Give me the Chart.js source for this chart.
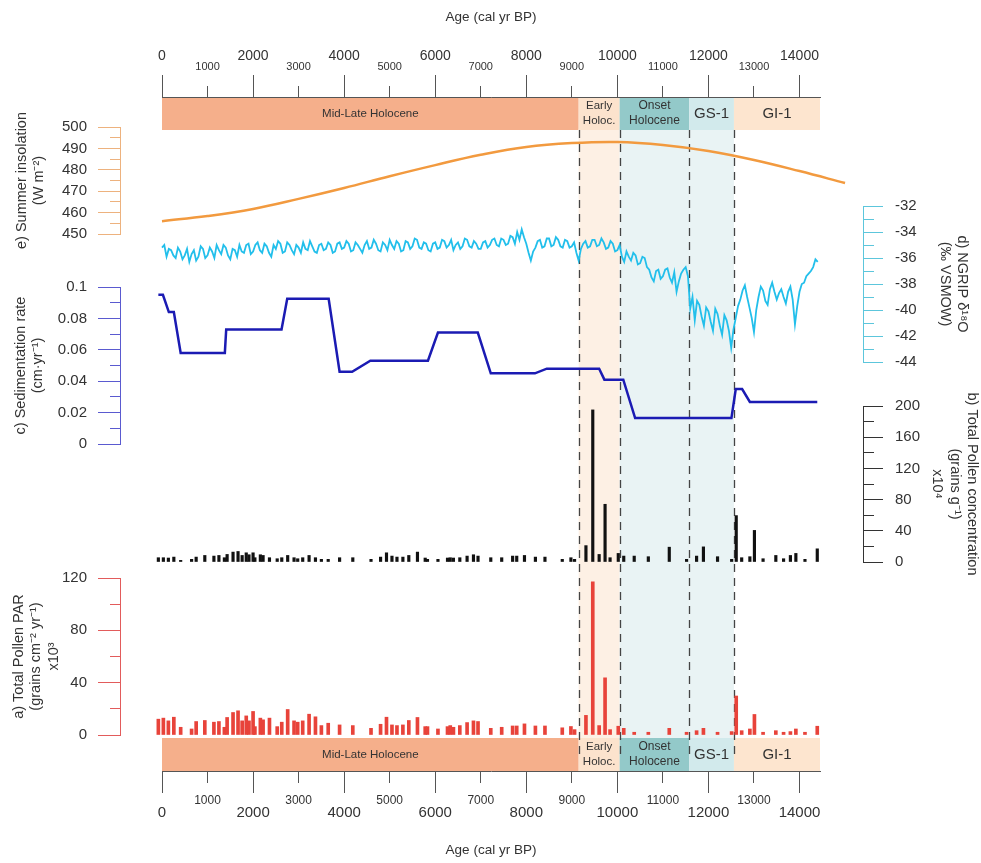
<!DOCTYPE html>
<html>
<head>
<meta charset="utf-8">
<title>Pollen record vs. climate</title>
<script src="https://cdn.jsdelivr.net/npm/chart.js@4.4.1/dist/chart.umd.min.js"></script>
<style>
  html, body { margin: 0; padding: 0; background: #fff; }
  #chart { display: block; }
</style>
</head>
<body>
<canvas id="chart" width="981" height="863"></canvas>
<script>
// ---- values (ages in cal yr BP) ----

// chronozones
const zoneLabel = [['Mid-Late Holocene'], ['Early', 'Holoc.'], ['Onset', 'Holocene'], ['GS-1'], ['GI-1']];
const zoneStart = [0, 9150, 10050, 11580, 12560];
const zoneEnd = [9150, 10050, 11580, 12560, 14450];

// age axis ticks
const ageMajorTicks = [0, 2000, 4000, 6000, 8000, 10000, 12000, 14000];
const ageMinorTicks = [1000, 3000, 5000, 7000, 9000, 11000, 13000];

// e) summer insolation (W m-2)
const insAge = [0, 1000, 2000, 3000, 4000, 5000, 6000, 7000, 8000, 9000, 10000, 11000, 12000, 13000, 14000, 15000];
const insValue = [456, 458.4, 461.7, 466.4, 471.5, 477, 482.2, 487, 490.7, 492.5, 493, 491.6, 488.8, 484.6, 479.4, 473.8];

// d) NGRIP d18O (permil VSMOW)
const ngripAge = [
  0, 50, 100, 150, 200, 250, 300, 350, 400, 450, 500, 550, 600, 650, 700, 750, 800, 850, 900, 950,
  1000, 1050, 1100, 1150, 1200, 1250, 1300, 1350, 1400, 1450, 1500, 1550, 1600, 1650, 1700, 1750, 1800, 1850, 1900, 1950,
  2000, 2050, 2100, 2150, 2200, 2250, 2300, 2350, 2400, 2450, 2500, 2550, 2600, 2650, 2700, 2750, 2800, 2850, 2900, 2950,
  3000, 3050, 3100, 3150, 3200, 3250, 3300, 3350, 3400, 3450, 3500, 3550, 3600, 3650, 3700, 3750, 3800, 3850, 3900, 3950,
  4000, 4050, 4100, 4150, 4200, 4250, 4300, 4350, 4400, 4450, 4500, 4550, 4600, 4650, 4700, 4750, 4800, 4850, 4900, 4950,
  5000, 5050, 5100, 5150, 5200, 5250, 5300, 5350, 5400, 5450, 5500, 5550, 5600, 5650, 5700, 5750, 5800, 5850, 5900, 5950,
  6000, 6050, 6100, 6150, 6200, 6250, 6300, 6350, 6400, 6450, 6500, 6550, 6600, 6650, 6700, 6750, 6800, 6850, 6900, 6950,
  7000, 7050, 7100, 7150, 7200, 7250, 7300, 7350, 7400, 7450, 7500, 7550, 7600, 7650, 7700, 7750, 7800, 7850, 7900, 7950,
  8000, 8050, 8100, 8150, 8200, 8250, 8300, 8350, 8400, 8450, 8500, 8550, 8600, 8650, 8700, 8750, 8800, 8850, 8900, 8950,
  9000, 9050, 9100, 9150, 9200, 9250, 9300, 9350, 9400, 9450, 9500, 9550, 9600, 9650, 9700, 9750, 9800, 9850, 9900, 9950,
  10000, 10050, 10100, 10150, 10200, 10250, 10300, 10350, 10400, 10450, 10500, 10550, 10600, 10650, 10700, 10750, 10800, 10850, 10900, 10950,
  11000, 11050, 11100, 11150, 11200, 11250, 11300, 11350, 11400, 11450, 11500, 11550, 11600, 11650, 11700, 11750, 11800, 11850, 11900, 11950,
  12000, 12050, 12100, 12150, 12200, 12250, 12300, 12350, 12400, 12450, 12500, 12550, 12600, 12650, 12700, 12750, 12800, 12850, 12900, 12950,
  13000, 13050, 13100, 13150, 13200, 13250, 13300, 13350, 13400, 13450, 13500, 13550, 13600, 13650, 13700, 13750, 13800, 13850, 13900, 13950,
  14000, 14050, 14100, 14150, 14200, 14250, 14300, 14350, 14400
];
const ngripValue = [
  -35.2, -35.0, -35.9, -35.3, -35.4, -35.8, -36.0, -35.2, -35.5, -36.1, -35.8, -35.3, -36.3, -35.7, -35.4, -36.2, -35.9, -35.1, -35.3, -36.0,
  -35.8, -35.2, -35.5, -36.0, -35.0, -35.4, -35.7, -35.0, -35.2, -35.8, -36.1, -35.3, -35.4, -35.9, -35.0, -35.5, -35.6, -35.0, -34.9, -35.7,
  -35.5, -35.0, -34.8, -35.4, -35.6, -34.9, -35.1, -35.6, -35.9, -35.0, -35.3, -34.7, -34.9, -35.6, -35.5, -34.8, -35.0, -35.4, -35.7, -35.0,
  -35.2, -35.6, -34.8, -35.3, -35.4, -34.7, -35.1, -35.5, -35.6, -35.0, -34.9, -35.4, -35.3, -34.8, -35.0, -35.6, -35.5, -34.9, -34.8, -35.3,
  -35.2, -34.7, -34.9, -35.5, -35.4, -34.8, -35.0, -35.3, -35.6, -35.0, -34.7, -35.3, -35.2, -34.6, -34.9, -35.4, -35.5, -34.8, -35.0, -35.4,
  -34.6, -35.0, -35.3, -34.7, -34.9, -35.5, -35.4, -34.7, -34.8, -35.3, -35.1, -34.5, -34.6, -35.2, -35.3, -34.8, -34.9, -35.4, -35.5, -34.9,
  -34.8, -35.3, -35.2, -34.6, -34.7, -35.2, -35.0, -34.6, -35.4, -35.0, -34.8, -35.3, -35.1, -34.5, -34.6, -35.1, -35.2, -34.7, -34.9, -35.3,
  -35.3, -34.8, -34.7, -35.2, -35.0, -34.6, -34.5, -35.0, -35.1, -34.5, -34.6, -35.0, -34.9, -34.3, -34.4, -34.9, -34.0, -34.6, -33.8, -34.4,
  -34.9, -35.6, -36.2, -35.5, -35.2, -34.7, -34.6, -35.2, -35.1, -34.5, -34.5, -35.1, -35.0, -34.4, -34.6, -35.1, -35.2, -34.6, -34.7, -35.2,
  -35.1, -34.8, -35.6, -36.2, -35.3, -34.9, -34.7, -35.2, -35.1, -34.6, -34.6, -35.1, -35.0, -34.5, -34.8, -35.3, -35.2, -34.7, -34.9, -35.5,
  -35.4, -35.0, -35.9, -36.3, -35.5, -35.9, -36.2, -35.6, -35.8, -36.5, -36.4, -35.9, -36.0, -36.7, -36.9, -37.5, -37.8, -37.0, -36.9, -37.6,
  -37.4, -36.9, -36.8, -37.5, -37.9, -37.1, -38.6, -37.8, -37.2, -36.9, -36.7, -37.4, -39.9, -39.0, -40.8, -39.3, -39.6, -40.5, -41.2, -39.8,
  -40.1, -40.9, -41.6, -39.9, -40.3, -41.2, -41.9, -40.4, -40.8, -41.6, -42.9, -41.5, -40.6, -39.7, -39.2, -38.5, -38.1, -39.0, -39.8, -40.6,
  -41.7, -40.0, -39.0, -38.2, -38.5, -39.3, -39.6, -38.4, -37.9, -38.6, -39.2, -38.7, -38.4, -39.0, -39.5, -38.6, -38.2, -39.2, -41.1, -39.7,
  -38.6, -38.0, -37.9, -37.4, -37.2, -37.0, -36.7, -36.1, -36.3
];

// c) sedimentation rate (cm yr-1)
const sedAge = [-80, 20, 150, 260, 410, 1380, 1410, 2625, 2750, 3660, 3900, 4175, 4575, 5840,
  6060, 6935, 7220, 8190, 8450, 9600, 9715, 10130, 10390, 12505, 12600, 12740, 12910, 14390];
const sedValue = [0.095, 0.095, 0.084, 0.084, 0.058, 0.058, 0.073, 0.073, 0.0925, 0.0925, 0.046, 0.046, 0.053, 0.053,
  0.071, 0.071, 0.045, 0.045, 0.048, 0.048, 0.041, 0.041, 0.0165, 0.0165, 0.035, 0.035, 0.0268, 0.0268];

// pollen samples
const sampleAge = [
  -80, 30, 140, 260, 410, 650, 750, 940, 1140, 1250,
  1370, 1430, 1560, 1670, 1760, 1850, 1910, 2000, 2040, 2160,
  2220, 2360, 2530, 2630, 2760, 2900, 2980, 3090, 3230, 3370,
  3500, 3650, 3900, 4190, 4590, 4800, 4930, 5050, 5160, 5290,
  5420, 5610, 5780, 5830, 6060, 6270, 6330, 6400, 6540, 6700,
  6840, 6940, 7220, 7460, 7700, 7790, 7960, 8200, 8410, 8790,
  8980, 9060, 9310, 9460, 9600, 9730, 9840, 10020, 10140, 10370,
  10680, 11140, 11520, 11740, 11890, 12200, 12510, 12610, 12730, 12910,
  13010, 13200, 13480, 13650, 13800, 13920, 14120, 14390
];
// b) total pollen concentration (grains g-1, x10^4)
const concValue = [
  5.5, 5.5, 5.1, 6.3, 2.1, 3.4, 6.3, 8.4, 7.6, 8.4,
  5.5, 9.7, 12.7, 13.5, 8.4, 11.8, 9.3, 11.8, 5.5, 9.3,
  8.4, 5.5, 4.2, 5.5, 8.4, 5.5, 4.2, 5.5, 8.4, 5.5,
  3.4, 3.4, 5.5, 5.5, 3.4, 6.3, 11.8, 7.6, 6.3, 6.3,
  8.4, 12.7, 5.1, 3.4, 3.4, 5.1, 5.5, 5.1, 5.5, 7.6,
  9.3, 7.6, 5.5, 5.5, 7.6, 7.6, 8.4, 6.3, 6.3, 3.4,
  5.5, 3.4, 21.0, 195.0, 9.7, 74.0, 5.5, 11.0, 7.6, 7.6,
  6.8, 19.0, 3.4, 7.6, 19.4, 6.8, 3.4, 59.5, 5.5, 6.8,
  40.5, 4.2, 8.4, 4.2, 8.4, 11.0, 3.4, 16.9
];
// a) total pollen PAR (grains cm-2 yr-1, x10^3)
const parValue = [
  12.1, 12.9, 10.8, 13.6, 5.9, 4.6, 10.3, 11.1, 9.8, 10.3,
  5.9, 13.4, 17.2, 18.5, 10.8, 14.6, 10.8, 18.0, 6.4, 12.9,
  11.6, 12.9, 6.4, 9.8, 19.5, 10.8, 9.8, 10.8, 15.9, 13.9,
  7.2, 9.0, 7.7, 7.2, 5.1, 8.2, 13.6, 7.7, 7.2, 7.7,
  11.1, 13.4, 6.4, 6.4, 4.6, 6.4, 7.2, 5.9, 7.2, 9.5,
  10.8, 10.3, 5.1, 5.9, 6.9, 6.9, 8.5, 6.9, 6.9, 5.5,
  6.5, 4.1, 15.0, 117.0, 7.2, 43.7, 4.1, 6.7, 5.1, 2.1,
  2.1, 5.1, 2.1, 3.3, 5.1, 2.1, 2.6, 29.8, 3.3, 4.6,
  15.7, 2.1, 3.3, 2.1, 2.6, 4.6, 2.1, 6.7
];

// axis ranges
const ageRange = [0, 14450];
const insRange = [450, 500];
const ngripRange = [-44, -32];
const sedRange = [0, 0.1];
const concRange = [0, 200];
const parRange = [0, 120];

// ---- styles & panel placement ----
const zoneFill = ['#F5AF8B', '#FCE3CD', '#93C9C9', '#D2EAEC', '#FDE5CF'];
const zoneShade = [null, '#FDF0E4', '#E9F3F4', '#E9F3F4', null];
const zoneFont = [11.5, 11.5, 12, 15, 15];
const bandHeight = 33;

const TITLE_FONT = { size: 14.5, lineHeight: 1.2 };
const titleHalf = TITLE_FONT.size * TITLE_FONT.lineHeight / 2;
const AGE_FONT = { size: 13.5, lineHeight: 1.2 };
const ageHalf = AGE_FONT.size * AGE_FONT.lineHeight / 2;

// where each stacked y axis sits: axis line x, first title line x, pixel of max / min
const panelBox = {
  yIns:   { edge: 120, title: 22,  top: 127, bottom: 234 },
  yNgrip: { edge: 863, title: 962, top: 206, bottom: 362 },
  ySed:   { edge: 120, title: 21,  top: 287, bottom: 444 },
  yConc:  { edge: 863, title: 972, top: 406, bottom: 562 },
  yPar:   { edge: 120, title: 19,  top: 578, bottom: 735 }
};

Chart.defaults.font.family = "'Liberation Sans', Arial, sans-serif";
Chart.defaults.color = '#333';

const zeroSize = (s) => {
  if (s.isHorizontal()) s.height = 0; else s.width = 0;
  s.paddingLeft = s.paddingRight = s.paddingTop = s.paddingBottom = 0;
};

function yScale(position, range, step, every, color, title, fmt) {
  const tl = position === 'left' ? 22 : 20;
  const minorLen = 10;
  const ratio = Math.round(every / step);
  const isMajor = (v) => Math.abs(Math.round(v / step) % ratio) === 0;
  const minorDash = position === 'left' ? [0, tl - minorLen, minorLen, 200] : [minorLen, 200];
  return {
    type: 'linear',
    position: position,
    min: range[0],
    max: range[1],
    afterFit: zeroSize,
    ticks: {
      stepSize: step,
      autoSkip: false,
      includeBounds: false,
      padding: position === 'left' ? 11 : 12,
      font: { size: 15 },
      color: '#333',
      callback: (v) => isMajor(v) ? fmt(v) : ''
    },
    grid: {
      drawOnChartArea: false,
      tickLength: tl,
      color: color,
      tickBorderDash: (ctx) => (ctx.tick && !isMajor(ctx.tick.value)) ? minorDash : []
    },
    border: { display: true, color: color, width: 1 },
    title: { display: true, text: title, font: TITLE_FONT, padding: 0, color: '#333' }
  };
}

function xScale(position, tickValues, fontSize, tl, pad, title) {
  return {
    type: 'linear',
    position: position,
    min: ageRange[0],
    max: ageRange[1],
    offset: false,
    afterFit: zeroSize,
    afterBuildTicks: (s) => { s.ticks = tickValues.map(v => ({ value: v })); },
    ticks: {
      autoSkip: false,
      maxRotation: 0,
      padding: pad,
      font: { size: fontSize },
      color: '#333',
      callback: (v) => String(v)
    },
    grid: { drawOnChartArea: false, tickLength: tl, color: '#555', offset: false },
    border: { display: !!title, color: '#555' },
    title: title ? { display: true, text: title, font: AGE_FONT, padding: 0, color: '#333' } : { display: false }
  };
}

// put the stacked axes where the panels are
const placeAxes = {
  id: 'placeAxes',
  afterLayout(chart) {
    Object.keys(panelBox).forEach(id => {
      const p = panelBox[id];
      const s = chart.scales[id];
      s.top = p.top;
      s.bottom = p.bottom;
      s.height = p.bottom - p.top;
      if (s.options.position === 'left') {
        s.right = p.edge;
        s.left = p.title - titleHalf;
      } else {
        s.left = p.edge;
        s.right = p.title + titleHalf;
      }
      s.width = s.right - s.left;
      s.configure();
      s._gridLineItems = null;
      s._labelItems = null;
    });
    // x axes: give the boxes room so their labels are not clipped
    chart.scales.xTop.top = 17 - ageHalf;
    chart.scales.xTopMinor.top = 0;
    chart.scales.x.bottom = 850 + ageHalf;
    chart.scales.xBotMinor.bottom = chart.height;
    ['xTop', 'xTopMinor', 'x', 'xBotMinor'].forEach(id => {
      const s = chart.scales[id];
      s.height = s.bottom - s.top;
      s._labelItems = null;
    });
  }
};

// chronozone bars, background shading and dashed boundaries
const zones = {
  id: 'zones',
  beforeDraw(chart) {
    const { ctx, chartArea } = chart;
    const xs = chart.scales.x;
    const topY = chartArea.top;
    const botY = chartArea.bottom - bandHeight;
    ctx.save();
    zoneStart.forEach((start, i) => {
      const x0 = xs.getPixelForValue(start);
      const x1 = xs.getPixelForValue(zoneEnd[i]);
      if (zoneShade[i]) {
        ctx.fillStyle = zoneShade[i];
        ctx.fillRect(x0, topY + bandHeight - 1, x1 - x0, botY - topY - bandHeight + 1);
      }
      [topY, botY].forEach(y0 => {
        ctx.fillStyle = zoneFill[i];
        ctx.fillRect(x0, y0, x1 - x0, bandHeight);
        ctx.fillStyle = '#333';
        ctx.font = zoneFont[i] + "px 'Liberation Sans', Arial, sans-serif";
        ctx.textAlign = 'center';
        ctx.textBaseline = 'middle';
        const lines = zoneLabel[i];
        const lh = zoneFont[i] * 1.25;
        lines.forEach((t, k) => {
          const y = y0 + bandHeight / 2 + (k - (lines.length - 1) / 2) * lh;
          ctx.fillText(t, (x0 + x1) / 2, y);
        });
      });
    });
    ctx.restore();
  },
  beforeDatasetsDraw(chart) {
    const { ctx, chartArea } = chart;
    const xs = chart.scales.x;
    ctx.save();
    ctx.strokeStyle = '#444';
    ctx.lineWidth = 1.3;
    ctx.setLineDash([8, 6]);
    zoneStart.slice(1).forEach(a => {
      const x = Math.round(xs.getPixelForValue(a)) + 0.5;
      ctx.beginPath();
      ctx.moveTo(x, chartArea.top + bandHeight);
      ctx.lineTo(x, chartArea.bottom - bandHeight / 2);
      ctx.stroke();
    });
    ctx.restore();
  }
};

const pts = (xs, ys) => xs.map((x, i) => ({ x: x, y: ys[i] }));

new Chart(document.getElementById('chart'), {
  type: 'line',
  data: {
    datasets: [
      { label: 'Summer insolation', data: pts(insAge, insValue), xAxisID: 'x', yAxisID: 'yIns',
        borderColor: '#F29A3F', borderWidth: 2.5, pointRadius: 0, tension: 0.4, clip: false },
      { label: 'NGRIP d18O', data: pts(ngripAge, ngripValue), xAxisID: 'x', yAxisID: 'yNgrip',
        borderColor: '#22BFEB', borderWidth: 1.8, pointRadius: 0, tension: 0, clip: false },
      { label: 'Sedimentation rate', data: pts(sedAge, sedValue), xAxisID: 'x', yAxisID: 'ySed',
        borderColor: '#1B1BB3', borderWidth: 2.5, pointRadius: 0, tension: 0, clip: false },
      { type: 'bar', label: 'Total pollen concentration', data: pts(sampleAge, concValue), xAxisID: 'x', yAxisID: 'yConc',
        backgroundColor: '#111', barThickness: 2.5, grouped: false, clip: false },
      { type: 'bar', label: 'Total pollen PAR', data: pts(sampleAge, parValue), xAxisID: 'x', yAxisID: 'yPar',
        backgroundColor: '#E8433A', barThickness: 3, grouped: false, clip: false }
    ]
  },
  options: {
    responsive: false,
    animation: false,
    devicePixelRatio: 1,
    layout: { padding: { left: 162, right: 161, top: 97, bottom: 92 } },
    plugins: { legend: { display: false }, tooltip: { enabled: false } },
    scales: {
      xTop: xScale('top', ageMajorTicks, 14, 22, 10, 'Age (cal yr BP)'),
      xTopMinor: xScale('top', ageMinorTicks, 11, 11, 12, null),
      x: xScale('bottom', ageMajorTicks, 15, 22, 11, 'Age (cal yr BP)'),
      xBotMinor: xScale('bottom', ageMinorTicks, 12, 12, 10, null),
      yIns: yScale('left', insRange, 5, 10, '#EDB27E', ['e) Summer insolation', '(W m\u207B\u00B2)'], v => String(v)),
      yNgrip: yScale('right', ngripRange, 1, 2, '#5CC6DC', ['d) NGRIP \u03B4\u00B9\u2078O', '(\u2030 VSMOW)'], v => String(v)),
      ySed: yScale('left', sedRange, 0.01, 0.02, '#5A5AD0', ['c) Sedimentation rate', '(cm\u00B7yr\u207B\u00B9)'], v => String(+v.toFixed(2))),
      yConc: yScale('right', concRange, 20, 40, '#333', ['b) Total Pollen concentration', '(grains g\u207B\u00B9)', 'x10\u2074'], v => String(v)),
      yPar: yScale('left', parRange, 20, 40, '#E25B5B', ['a) Total Pollen PAR', '(grains cm\u207B\u00B2 yr\u207B\u00B9)', 'x10\u00B3'], v => String(v))
    }
  },
  plugins: [placeAxes, zones]
});
</script>
</body>
</html>
